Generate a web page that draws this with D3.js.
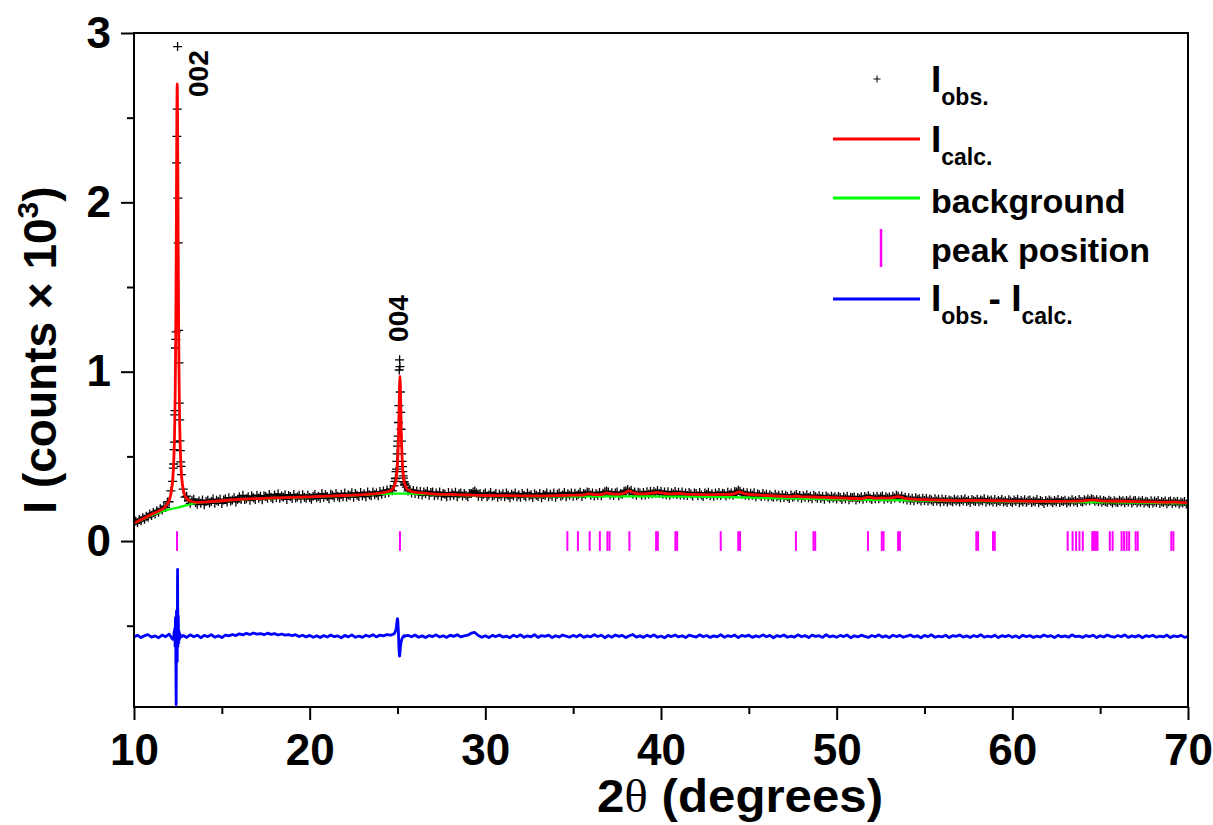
<!DOCTYPE html>
<html>
<head>
<meta charset="utf-8">
<script src="https://cdn.jsdelivr.net/npm/d3@7"></script>
<style>
  body { margin: 0; background: #fff; }
  svg text { font-family: "Liberation Sans", Arial, sans-serif; font-weight: bold; fill: #000; }
</style>
</head>
<body>
<svg id="chart" width="1213" height="825"></svg>
<script>
// ---- Rietveld refinement data (intensities in counts) ----

// Observed intensities, measured on evenly stepped 2θ segments [first, last]
const obsSpans = [[10.0, 12.2], [12.24, 12.70], [12.8, 24.8], [24.86, 25.42], [25.5, 70.0]];
const obsLow = [102,118,109,127,120,138,129,147,140,160,151,168,160,179,170,190,183,205,198,231,232,296,352];
const obsPeak002 = [430,455,540,584,745,770,1140,1191,1235,2233,2390,2550,2920,2025,1761,1244,1052,814,715,591,534,468,441,392];
const obsMid = [
  306,259,265,238,223,238,247,227,217,237,
  223,242,215,234,241,224,234,248,223,241,
  233,248,222,243,248,230,256,237,242,256,
  231,247,261,246,270,245,250,261,241,267,
  256,246,271,252,264,244,268,263,252,275,
  259,250,272,257,279,252,266,259,274,246,
  269,263,251,275,254,260,270,249,273,258,
  252,271,257,247,265,275,255,265,252,280,
  258,273,263,250,276,271,258,281,264,256,
  275,262,283,260,274,268,285,259,280,271,
  263,286,268,279,262,289,273,267,290,273,
  283,268,292,277,296,281,301,285,306,297,
  326];
const obsPeak004 = [352,368,372,410,425,470,515,560,590,620,700,800,1010,1070,1030,880,760,660,590,515,470,440,410,385,372,350,348,330,338];
const obsHigh = [
  318,296,305,284,298,
  281,295,277,293,272,289,279,294,270,286,
  290,268,284,271,289,265,281,277,262,286,
  266,283,270,288,262,279,284,266,281,271,
  262,280,281,290,296,284,265,281,263,276,
  283,261,272,287,264,270,281,258,277,266,
  279,262,283,270,255,276,268,284,261,273,
  258,280,269,262,284,266,274,257,279,270,
  263,281,256,275,270,284,262,277,265,283,
  259,276,283,265,272,287,261,279,271,284,
  264,282,268,277,288,263,281,276,290,287,
  271,283,266,280,270,287,268,282,291,295,
  290,272,285,269,283,290,268,281,276,294,
  296,305,291,300,276,289,271,288,283,270,
  287,272,291,276,292,279,293,283,298,280,
  294,276,289,273,291,270,285,278,292,275,
  288,272,290,271,283,269,286,278,266,284,
  280,267,286,272,263,283,275,288,268,279,
  264,283,271,287,269,282,279,266,288,274,
  283,270,292,289,300,294,276,288,271,285,
  268,282,270,285,262,279,274,263,280,266,
  277,260,274,265,258,276,262,271,255,273,
  257,270,261,251,272,259,266,275,258,269,
  252,268,259,273,255,264,250,270,262,253,
  268,251,263,247,266,259,250,265,254,262,
  248,263,257,245,261,250,264,244,259,255,
  260,243,257,249,262,247,263,252,268,254,
  246,261,250,264,249,260,266,247,262,252,
  260,247,265,254,270,264,251,266,248,258,
  243,256,241,253,238,255,244,250,236,252,
  239,251,236,248,242,233,250,237,247,230,
  248,234,246,231,243,238,232,247,236,244,
  230,245,237,249,233,241,228,246,238,234,
  247,232,243,236,249,229,244,235,242,230,
  245,229,240,234,246,231,238,227,244,235,
  228,242,233,247,226,239,231,244,229,238,
  243,228,237,232,245,226,240,233,222,239,
  229,243,235,226,240,231,246,228,238,233,
  241,225,237,230,244,232,239,228,245,233,
  231,244,236,248,238,250,246,235,244,232,
  242,229,240,233,227,241,235,224,238,231,
  228,241,232,238,226,239,230,243,225,237,
  239,226,236,229,240,224,235,231,221,238,
  225,236,228,239,222,234,227,237,220,232,
  236,222,233,226,235,219,231,224,234,218,
  228];

// Calculated profile
const calcTheta = [10.0,10.3,10.6,10.9,11.2,11.5,11.8,12.0,12.1,12.2,12.24,12.26,12.28,12.30,12.32,12.34,12.36,12.38,12.40,12.42,12.44,12.46,12.48,12.50,12.52,12.54,12.56,12.58,12.60,12.62,12.64,12.66,12.72,12.82,12.92,13.12,13.32,13.6,14.0,14.5,15.0,16.0,17.0,18.0,19.0,20.0,21.0,22.0,23.0,24.0,24.4,24.64,24.74,24.84,24.89,24.94,24.98,25.00,25.02,25.04,25.06,25.08,25.10,25.12,25.14,25.16,25.18,25.20,25.22,25.24,25.26,25.28,25.30,25.34,25.39,25.44,25.54,25.64,25.84,26.14,26.5,27,28,29,30,31,32,33,34,34.6,35.2,35.6,35.9,36.2,36.6,36.9,37.2,37.6,37.9,38.2,38.5,39.0,39.5,39.8,40.2,40.6,41.0,41.4,42,43,43.4,43.8,44.2,44.45,44.8,45.5,46.5,47.4,47.7,48.0,48.7,49.5,50.5,51.4,51.8,52.2,52.6,53.0,53.5,54.0,55,56,57,58,59,60,61,62,63,63.6,64.0,64.6,65.0,65.6,66.3,67,68,69,69.2,70];
const calcValues = [106,121,136,152,167,182,205,240,278,360,420,462,525,594,700,830,1030,1281,1639,2083,2510,2700,2510,2085,1641,1284,1022,834,700,601,529,473,372,295,264,241,232,228,230,234,238,246,251,255,258,261,265,269,274,283,290,300,310,329,348,379,422,454,496,553,629,726,836,933,974,933,836,726,629,553,496,454,422,379,347,329,309,300,291,286,283,279,275,272,269,268,267,267,268,270,271,272,280,274,274,284,278,277,282,296,282,279,283,287,282,278,282,277,275,274,276,275,280,290,278,272,266,262,266,261,260,257,253,251,259,253,255,253,262,250,244,241,239,240,238,236,235,234,234,236,237,243,237,235,235,233,231,229,230,226];

// Refined background
const bgTheta = [10,10.5,11,11.5,12,12.5,13,13.5,14,15,16,17,18,19,20,21,22,23,24,24.5,25,25.5,26,27,28,29,30,32,34,36,38,40,42,44,46,48,50,52,54,56,58,60,62,64,66,68,70];
const bgValues = [103,128,152,172,186,198,212,224,229,237,245,250,253,256,259,263,267,272,278,279,280,280,279,276,273,270,267,265,263,263,264,263,262,259,254,250,246,243,240,237,235,233,231,230,228,225,222];

// Difference Iobs - Icalc, on evenly stepped 2θ segments [first, last]
const diffSpans = [[10.0, 12.2], [12.26, 12.66], [12.8, 24.8], [24.86, 25.42], [25.6, 70.0]];
const diffLow = [-4,6,-8,3,9,-5,2,-9,7,-3,12,-18];
const diffPeak002 = [-8,25,-10,45,-60,110,-90,-404,150,-120,-150,394,-60,120,-40,30,-20,15,-10,5,-5];
const diffMid = [4,-7,8,-3,6,-9,5,-2,9,-6,3,-8,7,2,10,4,14,8,17,10,19,12,16,9,18,11,15,7,13,6,10,3,9,-2,6,-4,5,-6,3,-8,4,-5,7,-3,2,-9,5,-4,8,-6,1,-7,6,-2,9,-4,7,2,10,6,14];
const diffPeak004 = [22,30,36,45,58,75,95,104,90,50,0,-60,-105,-118,-100,-72,-52,-38,-28,-20,-14,-9,-6,-3,1,-4,3,-2,2];
const diffHigh = [
  5,-3,7,-6,2,-8,4,-2,8,-5,
  3,-7,6,-1,9,-4,2,6,18,22,
  4,-6,3,-8,5,-2,7,-5,1,-9,
  6,-3,8,-6,2,-4,9,-7,4,-1,
  6,-8,3,-5,7,0,-6,5,-3,8,
  -7,2,-4,9,-2,6,-9,4,-6,7,
  -1,5,-8,3,10,-5,2,-7,6,-3,
  8,-6,1,-9,5,-2,7,-4,3,-8,
  6,0,-5,8,-3,4,-7,2,-4,9,
  -6,3,-2,7,-8,5,-1,6,-7,2,
  -4,8,-3,5,-9,4,-2,7,-6,1,
  -5,8,-3,4,-8,6,-1,3,-7,9,
  -4,2,-6,5,-2,7,-9,3,-4,6,
  -1,-7,4,-3,8,-5,2,-8,6,-2,
  5,-6,1,7,-4,3,-9,5,-2,8,
  -6,0,-4,6,-8,3,-1,7,-5,2,
  -7,4,-3,9,-6,1,-4,6,-8,3,
  -2,5,-6,2,-9,6,-3,4,-7,1,
  -5,7,-2,3,-8,5,-4,2,-6,8,
  -3,1,-7,4,-2,6,-8,3,-5,7,
  -1,-6,4,-3,8,-7,2,-4,5,-9,
  3,-2,6,-6,1,-4,7,-8,2,-3,
  5,-7,-2];
const diffOffset = -562;   // vertical shift of the difference curve

// Bragg reflection positions (2θ)
const peakPositions = [12.45,25.14,34.67,35.27,35.94,36.52,36.95,37.07,38.2,39.72,39.82,40.82,40.92,43.4,44.4,44.5,47.68,48.68,48.78,51.78,52.57,52.67,53.5,53.6,57.95,58.05,58.9,59.0,63.15,63.43,63.63,63.82,64.01,64.55,64.62,64.7,64.78,64.85,65.55,65.71,66.22,66.36,66.51,66.65,67.02,67.14,69.05,69.17];

// Reflection labels, placed in data coordinates (2θ, counts)
const reflectionLabels = ["002", "004"];
const reflectionAt = [[14.2, 2760], [25.6, 1314]];

// Axes
const xTicks = [10, 20, 30, 40, 50, 60, 70];
const xMinorTicks = [15, 25, 35, 45, 55, 65];
const yTicks = [0, 1000, 2000, 3000];
const yMinorTicks = [-500, 500, 1500, 2500];

// ---- drawing ----
const svg = d3.select("#chart");
const plotLeft = 134, plotRight = 1188, plotTop = 33, plotBottom = 707;
const x = d3.scaleLinear().domain([10, 70]).range([plotLeft, plotRight]);
const y = d3.scaleLinear().domain([-980, 3000]).range([plotBottom, plotTop]);

function spread(span, values, shift = 0) {
  const [a, b] = span, n = values.length;
  return values.map((v, i) => ({ t: a + (b - a) * i / (n - 1), v: v + shift }));
}

const obs = [obsLow, obsPeak002, obsMid, obsPeak004, obsHigh]
  .flatMap((vals, k) => spread(obsSpans[k], vals));
const diff = [diffLow, diffPeak002, diffMid, diffPeak004, diffHigh]
  .flatMap((vals, k) => spread(diffSpans[k], vals, diffOffset));
const calc = calcTheta.map((t, i) => ({ t, v: calcValues[i] }));
const bg = bgTheta.map((t, i) => ({ t, v: bgValues[i] }));

svg.append("defs").append("clipPath").attr("id", "plotClip")
  .append("rect").attr("x", plotLeft).attr("y", plotTop)
  .attr("width", plotRight - plotLeft).attr("height", plotBottom - plotTop);

const plot = svg.append("g").attr("clip-path", "url(#plotClip)");

// observed points as "+" markers
const arm = 4.5;
plot.append("path")
  .attr("d", obs.map(d => {
    const px = x(d.t), py = y(d.v);
    return `M${px - arm},${py}H${px + arm}M${px},${py - arm}V${py + arm}`;
  }).join(""))
  .attr("fill", "none").attr("stroke", "#000").attr("stroke-width", 1.3);

const smooth = d3.line().x(d => x(d.t)).y(d => y(d.v)).curve(d3.curveMonotoneX);
const straight = d3.line().x(d => x(d.t)).y(d => y(d.v));

plot.append("path").attr("d", smooth(bg))
  .attr("fill", "none").attr("stroke", "#00ff00").attr("stroke-width", 2.2);
plot.append("path").attr("d", smooth(calc))
  .attr("fill", "none").attr("stroke", "#ff0000").attr("stroke-width", 2.8).attr("stroke-linejoin", "round");
plot.append("path").attr("d", straight(diff))
  .attr("fill", "none").attr("stroke", "#0000ff").attr("stroke-width", 2.8).attr("stroke-linejoin", "round");

// reflection markers
plot.append("g").selectAll("line").data(peakPositions).join("line")
  .attr("x1", d => x(d)).attr("x2", d => x(d))
  .attr("y1", y(58)).attr("y2", y(-58))
  .attr("stroke", "#ff00ff").attr("stroke-width", 2);

// reflection labels
svg.append("g").selectAll("text").data(reflectionLabels).join("text")
  .attr("transform", (d, i) => `translate(${x(reflectionAt[i][0])},${y(reflectionAt[i][1])}) rotate(-90)`)
  .attr("font-size", 28).attr("text-anchor", "middle")
  .text(d => d);

// axes
function styleAxis(g, size) {
  g.select(".domain").remove();
  g.selectAll(".tick line").attr("stroke", "#000").attr("stroke-width", 2);
  g.selectAll(".tick text").attr("font-size", size)
    .attr("font-family", '"Liberation Sans", Arial, sans-serif').attr("font-weight", "bold");
}
svg.append("g").attr("transform", `translate(0,${plotBottom})`)
  .call(d3.axisBottom(x).tickValues(xMinorTicks).tickSize(7).tickFormat(""))
  .call(g => styleAxis(g, 0));
svg.append("g").attr("transform", `translate(0,${plotBottom})`)
  .call(d3.axisBottom(x).tickValues(xTicks).tickSize(13).tickPadding(14).tickFormat(d3.format("d")))
  .call(g => styleAxis(g, 44));
svg.append("g").attr("transform", `translate(${plotLeft},0)`)
  .call(d3.axisLeft(y).tickValues(yMinorTicks).tickSize(7).tickFormat(""))
  .call(g => styleAxis(g, 0));
svg.append("g").attr("transform", `translate(${plotLeft},0)`)
  .call(d3.axisLeft(y).tickValues(yTicks).tickSize(13).tickPadding(10).tickFormat(d => d / 1000))
  .call(g => styleAxis(g, 44));

// frame
svg.append("rect").attr("x", plotLeft).attr("y", plotTop)
  .attr("width", plotRight - plotLeft).attr("height", plotBottom - plotTop)
  .attr("fill", "none").attr("stroke", "#000").attr("stroke-width", 2);

// axis titles
const xt = svg.append("text").attr("transform", "translate(740,812) scale(1.07,1)")
  .attr("text-anchor", "middle").attr("font-size", 46);
xt.append("tspan").text("2");
xt.append("tspan").attr("font-family", '"Liberation Serif", "DejaVu Serif", serif').attr("font-weight", "normal").text("θ");
xt.append("tspan").text(" (degrees)");

const yt = svg.append("text").attr("transform", "translate(56,350) rotate(-90)")
  .attr("text-anchor", "middle").attr("font-size", 46);
yt.append("tspan").text("I (counts × 10");
yt.append("tspan").attr("font-size", 30).attr("dy", -18).text("3");
yt.append("tspan").attr("dy", 18).text(")");

// legend
const lg = svg.append("g").attr("font-size", 34);
const legendArm = 3.5;
lg.append("path").attr("d", `M${877 - legendArm},79H${877 + legendArm}M877,${79 - legendArm}V${79 + legendArm}`)
  .attr("stroke", "#000").attr("stroke-width", 1);
[["#ff0000", 139], ["#00ff00", 198], ["#0000ff", 299]].forEach(([c, ly]) =>
  lg.append("line").attr("x1", 833).attr("x2", 920).attr("y1", ly).attr("y2", ly)
    .attr("stroke", c).attr("stroke-width", 2.8));
lg.append("line").attr("x1", 881).attr("x2", 881).attr("y1", 229).attr("y2", 267)
  .attr("stroke", "#ff00ff").attr("stroke-width", 2.5);

function subLabel(yBase, parts) {
  const t = lg.append("text").attr("x", 931).attr("y", yBase);
  parts.forEach(([txt, sub], i) => {
    t.append("tspan").attr("font-size", sub ? 23 : 37)
      .attr("dy", sub ? 13 : (i ? -13 : 0)).text(txt);
  });
}
subLabel(92, [["I", false], ["obs.", true]]);
subLabel(152, [["I", false], ["calc.", true]]);
lg.append("text").attr("x", 931).attr("y", 213).text("background");
lg.append("text").attr("x", 931).attr("y", 262).text("peak position");
subLabel(311, [["I", false], ["obs.", true], ["- I", false], ["calc.", true]]);
</script>
</body>
</html>
